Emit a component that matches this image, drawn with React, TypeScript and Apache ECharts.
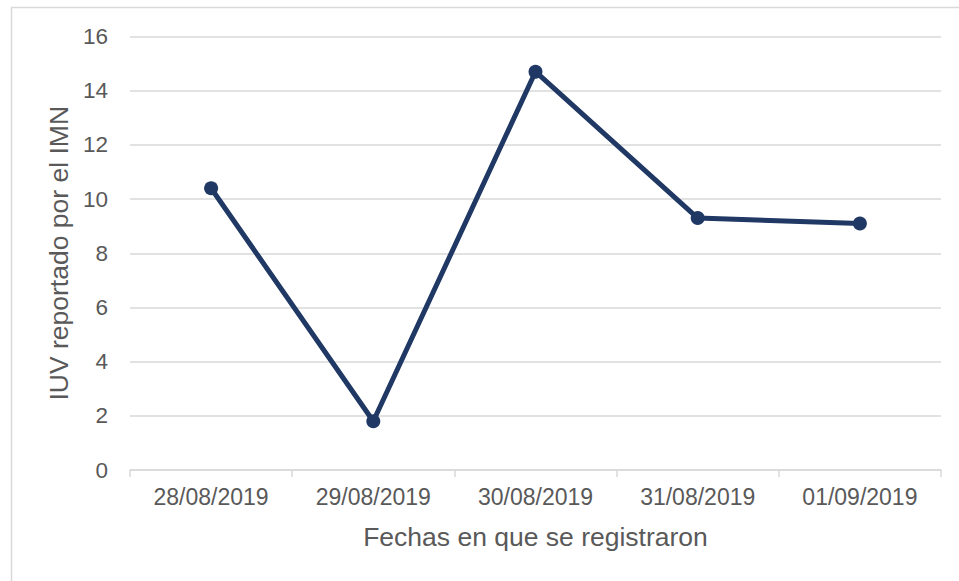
import React, { useEffect, useRef } from "react";
import * as echarts from "echarts";

const categories = ["28/08/2019", "29/08/2019", "30/08/2019", "31/08/2019", "01/09/2019"];
const iuvValues = [10.4, 1.8, 14.7, 9.3, 9.1];
const yAxisName = "IUV reportado por el IMN";
const xAxisName = "Fechas en que se registraron";

export default function App() {
  const ref = useRef<HTMLDivElement>(null);
  useEffect(() => {
    if (!ref.current) return;
    const chart = echarts.init(ref.current, null, { renderer: "svg" });
    const font = "'Liberation Sans', Arial, sans-serif";
    chart.setOption({
      animation: false,
      backgroundColor: "#ffffff",
      textStyle: { fontFamily: font },
      graphic: [
        {
          type: "rect",
          shape: { x: 11.5, y: 7.5, width: 960, height: 600 },
          style: { fill: "none", stroke: "#d9d9d9", lineWidth: 1.5 },
          silent: true,
        },
      ],
      grid: { left: 130, right: 18, top: 36.5, bottom: 111 },
      xAxis: {
        type: "category",
        data: categories,
        boundaryGap: true,
        name: xAxisName,
        nameLocation: "middle",
        nameGap: 53,
        nameTextStyle: { fontSize: 26.5, color: "#595959", fontFamily: font },
        axisLine: { show: true, lineStyle: { color: "#d9d9d9", width: 1.5 } },
        axisTick: { show: true, length: 7, lineStyle: { color: "#d9d9d9", width: 1.5 } },
        axisLabel: { fontSize: 23, color: "#595959", margin: 15, fontFamily: font },
      },
      yAxis: {
        type: "value",
        min: 0,
        max: 16,
        interval: 2,
        name: yAxisName,
        nameLocation: "middle",
        nameRotate: 90,
        nameGap: 56,
        nameTextStyle: { fontSize: 26.5, color: "#595959", fontFamily: font },
        axisLine: { show: false },
        axisTick: { show: false },
        axisLabel: { fontSize: 22.5, color: "#595959", margin: 22, fontFamily: font },
        splitLine: { lineStyle: { color: "#d9d9d9", width: 1.5 } },
      },
      series: [
        {
          type: "line",
          data: iuvValues,
          symbol: "circle",
          symbolSize: 14,
          itemStyle: { color: "#203864" },
          lineStyle: { color: "#203864", width: 5 },
        },
      ],
    });
    return () => chart.dispose();
  }, []);
  return (
    <div
      ref={ref}
      style={{ position: "absolute", left: 0, top: 0, width: 959, height: 581 }}
    />
  );
}
